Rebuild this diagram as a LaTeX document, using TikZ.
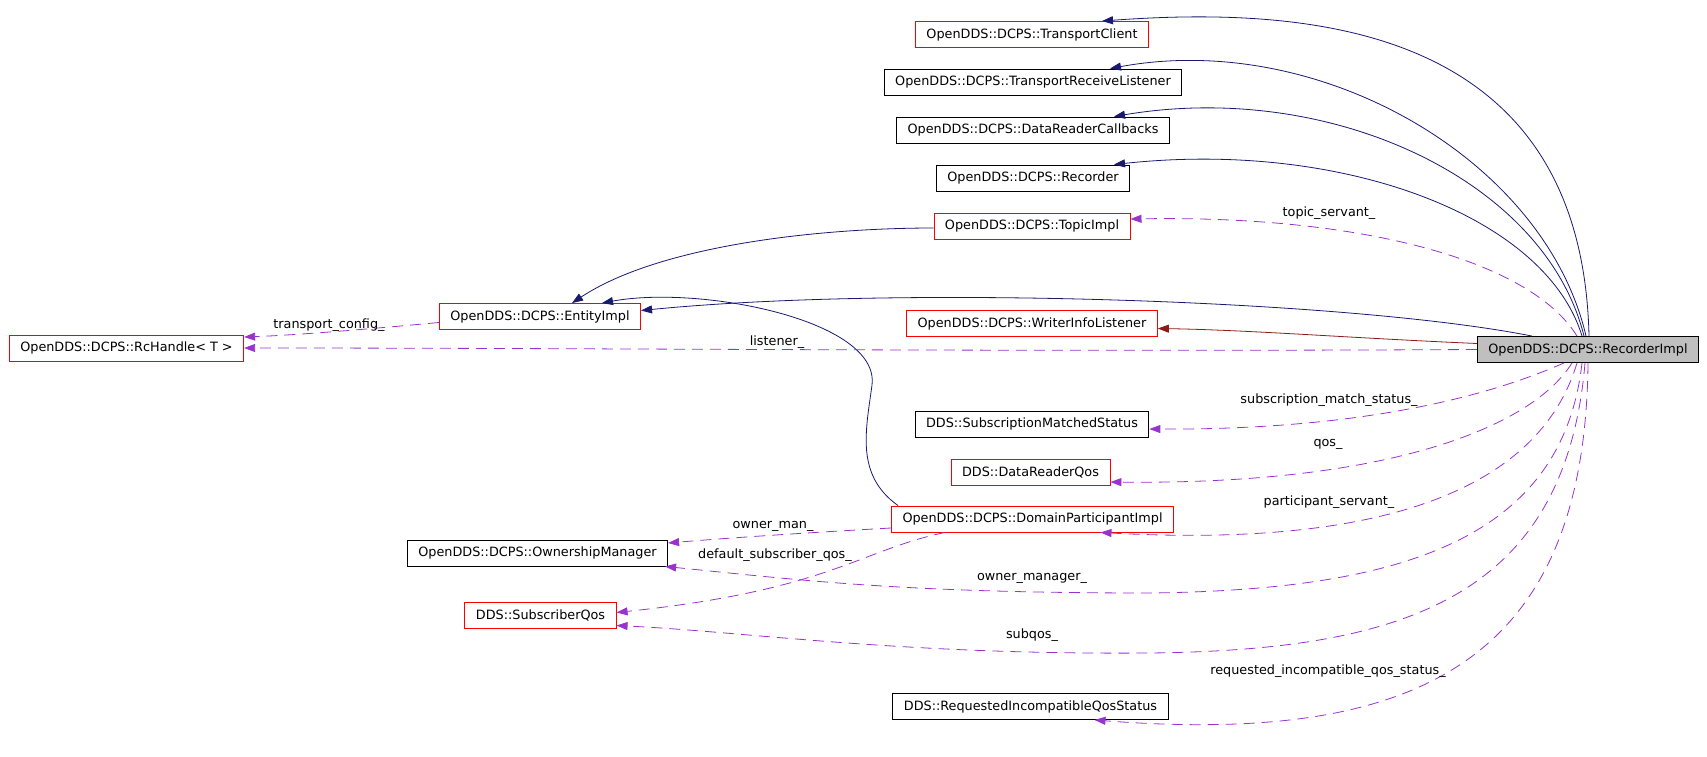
\documentclass[tikz,border=0pt]{standalone}
\usepackage{fontspec}
\setmainfont{DejaVu Sans}
\usetikzlibrary{arrows.meta}
\definecolor{inhblue}{HTML}{191970}
\definecolor{usepurple}{HTML}{9A32CD}
\definecolor{privred}{HTML}{8B1A1A}
\definecolor{selgray}{HTML}{BFBFBF}
\begin{document}
\begin{tikzpicture}[x=1pt,y=-1pt,
    font=\fontsize{12.8}{15}\selectfont,
    cls/.style={draw=black,line width=0.9pt,inner xsep=11pt,inner ysep=0pt,minimum height=26pt},
    doc/.style={cls,draw=red},
    tip/.style={-{Triangle[length=11pt,width=8pt]}},
    inh/.style={tip,draw=inhblue,line width=0.8pt},
    priv/.style={tip,draw=privred,line width=0.8pt},
    usage/.style={tip,draw=usepurple,line width=0.8pt,dash pattern=on 11pt off 7pt},
    lbl/.style={inner sep=0pt}]
  \useasboundingbox (0,0) rectangle (1707,757);
  % classes
  \node[doc] (tc)    at (1032,34.5)  {OpenDDS::DCPS::TransportClient};
  \node[cls] (trl)   at (1033,82)    {OpenDDS::DCPS::TransportReceiveListener};
  \node[cls] (drc)   at (1033,130)   {OpenDDS::DCPS::DataReaderCallbacks};
  \node[cls] (rec)   at (1033,178)   {OpenDDS::DCPS::Recorder};
  \node[doc] (topic) at (1032,226)   {OpenDDS::DCPS::TopicImpl};
  \node[doc] (ent)   at (540,316.5)  {OpenDDS::DCPS::EntityImpl};
  \node[doc] (rch)   at (126.5,348)  {OpenDDS::DCPS::RcHandle< T >};
  \node[doc] (wil)   at (1032,323.5) {OpenDDS::DCPS::WriterInfoListener};
  \node[cls,fill=selgray] (ri) at (1588,349.5) {OpenDDS::DCPS::RecorderImpl};
  \node[cls] (sms)   at (1032,424)   {DDS::SubscriptionMatchedStatus};
  \node[doc] (drq)   at (1030.5,472) {DDS::DataReaderQos};
  \node[doc] (dpi)   at (1032.5,519) {OpenDDS::DCPS::DomainParticipantImpl};
  \node[cls] (om)    at (537.5,553)  {OpenDDS::DCPS::OwnershipManager};
  \node[doc] (sq)    at (540.5,615.5) {DDS::SubscriberQos};
  \node[cls] (riqs)  at (1030.5,706.5) {DDS::RequestedIncompatibleQosStatus};
  % inheritance
  \draw[inh] ([xshift=1pt]ri.north) .. controls (1582,30) and (1320,5) .. ([xshift=70pt]tc.north);
  \draw[inh] ([xshift=-2pt]ri.north) .. controls (1545,160) and (1320,30) .. ([xshift=77pt]trl.north);
  \draw[inh] ([xshift=-4pt]ri.north) .. controls (1545,180) and (1330,80) .. ([xshift=81pt]drc.north);
  \draw[inh] ([xshift=-6pt]ri.north) .. controls (1545,215) and (1340,140) .. ([xshift=81pt]rec.north);
  \draw[inh] ([xshift=-56pt]ri.north) .. controls (1350,300) and (900,285) .. ([yshift=6pt]ent.east);
  \draw[inh] ([yshift=-2pt]topic.west) .. controls (820,228) and (660,245) .. ([xshift=32pt]ent.north);
  \draw[inh] ([xshift=7pt]dpi.north west) .. controls (855,475) and (866,430) .. (872,385)
    .. controls (880,320) and (700,285) .. ([xshift=62pt]ent.north);
  \draw[priv] ([yshift=6pt]ri.west) .. controls (1350,338) and (1250,330) .. ([yshift=-5pt]wil.east);
  % members
  \draw[usage] ([xshift=-11pt]ri.north) .. controls (1530,260) and (1360,215) .. ([yshift=7pt]topic.east);
  \node[lbl] (l1) at (1329,213) {topic\_servant\_};
  \draw[usage] (ri.west) .. controls (1000,352) and (600,348) .. (rch.east);
  \node[lbl] (l2) at (777,342) {listener\_};
  \draw[usage] ([yshift=-6pt]ent.west) .. controls (380,328) and (300,335) .. ([yshift=11pt]rch.east);
  \node[lbl] (l3) at (329,325) {transport\_config\_};
  \draw[usage] ([xshift=-24pt]ri.south) .. controls (1480,400) and (1350,430) .. ([yshift=-5pt]sms.east);
  \node[lbl] (l4) at (1329,400) {subscription\_match\_status\_};
  \draw[usage] ([xshift=-16pt]ri.south) .. controls (1530,430) and (1380,485) .. ([yshift=-10pt]drq.east);
  \node[lbl] (l5) at (1328,444) {qos\_};
  \draw[usage] ([xshift=-11pt]ri.south) .. controls (1545,470) and (1420,550) .. ([xshift=68pt]dpi.south);
  \node[lbl] (l6) at (1329,502) {participant\_servant\_};
  \draw[usage] ([xshift=-6pt]ri.south) .. controls (1562,540) and (1400,590) .. (1150,593)
    .. controls (900,593) and (800,580) .. ([xshift=-3pt]om.south east);
  \node[lbl] (l7) at (1032,578) {owner\_manager\_};
  \draw[usage] ([xshift=-3pt]ri.south) .. controls (1565,600) and (1400,650) .. (1150,653)
    .. controls (900,655) and (750,632) .. ([yshift=-10pt]sq.east);
  \node[lbl] (l8) at (1032,635) {subqos\_};
  \draw[usage] (ri.south) .. controls (1585,660) and (1420,745) .. ([xshift=64pt]riqs.south);
  \node[lbl] (l9) at (1328,671) {requested\_incompatible\_qos\_status\_};
  \draw[usage] ([yshift=-9pt]dpi.west) .. controls (820,532) and (740,537) .. ([yshift=10pt]om.east);
  \node[lbl] (l10) at (773,526) {owner\_man\_};
  \draw[usage] ([xshift=54pt]dpi.south west) .. controls (860,550) and (830,590) .. ([yshift=3pt]sq.east);
  \node[lbl] (l11) at (775,555) {default\_subscriber\_qos\_};
\end{tikzpicture}
\end{document}
